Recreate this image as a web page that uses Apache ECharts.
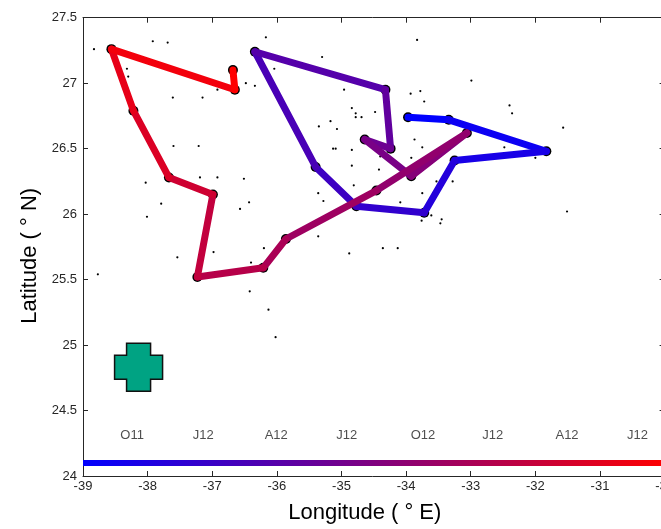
<!DOCTYPE html>
<html>
<head>
<meta charset="utf-8">
<script src="https://cdn.jsdelivr.net/npm/echarts@6/dist/echarts.min.js"></script>
<style>
  html, body { margin: 0; padding: 0; background: #fff; }
  #chart { width: 661px; height: 529px; }
</style>
</head>
<body>
<div id="chart"></div>
<script>
// track vertices, in time order (first = blue, last = red)
const pathLon = [-33.97, -33.34, -31.83, -33.25, -33.72, -34.77, -35.40, -36.34, -34.32, -34.24, -34.64, -33.92,
                 -33.06, -34.46, -35.86, -36.21, -37.23, -36.99, -37.67, -38.22, -38.56, -36.65, -36.68];
const pathLat = [26.74, 26.72, 26.48, 26.41, 26.01, 26.06, 26.36, 27.24, 26.95, 26.50, 26.57, 26.29,
                 26.62, 26.18, 25.81, 25.59, 25.52, 26.15, 26.28, 26.79, 27.26, 26.95, 27.10];

// small background dots
const dotLon = [-38.83, -37.92, -37.69, -36.17, -38.32, -38.30, -36.48, -36.34, -36.92, -37.61, -37.15, -35.30,
                -36.04, -35.35, -37.60, -37.21, -37.19, -36.92, -36.51, -38.03, -37.79, -38.01, -36.43, -36.57,
                -35.36, -35.28, -35.36, -36.20, -36.98, -37.54, -33.83, -32.99, -34.96, -33.93, -33.78, -33.72,
                -32.40, -32.36, -34.84, -34.78, -34.78, -34.69, -34.48, -35.17, -35.07, -31.57, -33.87, -35.13,
                -35.09, -34.84, -33.75, -34.40, -33.92, -32.48, -32.00, -34.84, -34.42, -33.53, -33.28, -34.81,
                -33.75, -34.09, -31.51, -33.61, -33.45, -33.47, -33.76, -34.36, -34.13, -34.88, -38.77, -36.42,
                -36.13, -36.02, -36.40];
const dotLat = [27.26, 27.32, 27.31, 27.35, 27.11, 27.05, 27.00, 26.98, 26.95, 26.89, 26.89, 27.20,
                27.11, 26.67, 26.52, 26.52, 26.28, 26.28, 26.27, 26.24, 26.08, 25.98, 26.09, 26.04,
                26.16, 26.10, 25.83, 25.74, 25.71, 25.67, 27.33, 27.02, 26.95, 26.92, 26.94, 26.86,
                26.83, 26.77, 26.81, 26.77, 26.74, 26.74, 26.78, 26.71, 26.65, 26.66, 26.57, 26.50,
                26.50, 26.49, 26.51, 26.44, 26.43, 26.51, 26.43, 26.37, 26.34, 26.25, 26.25, 26.22,
                26.16, 26.09, 26.02, 25.99, 25.96, 25.93, 25.95, 25.74, 25.74, 25.70, 25.54, 25.41,
                25.27, 25.06, 25.63];

// time labels above the colour bar
const monthLabels = ['O11', 'J12', 'A12', 'J12', 'O12', 'J12', 'A12', 'J12'];
const monthLon = [-38.24, -37.14, -36.01, -34.92, -33.74, -32.66, -31.51, -30.42];
const monthLat = 24.31;
const barLat = 24.1;
const markerLon = -38.14, markerLat = 24.83;

function segColor(t) {
    let r = Math.round(255 * t), b = Math.round(255 * (1 - t));
    return 'rgb(' + r + ',0,' + b + ')';
}

let nSeg = pathLon.length - 1;
let segments = [];
for (let i = 0; i < nSeg; i++) {
    segments.push({
        coords: [[pathLon[i], pathLat[i]], [pathLon[i + 1], pathLat[i + 1]]],
        lineStyle: { color: segColor(i / (nSeg - 1)) }
    });
}

const font = 'Liberation Sans, Arial, sans-serif';
const axisCommon = {
    type: 'value',
    axisLine: { show: true, lineStyle: { color: '#262626', width: 1 } },
    axisTick: { show: true, inside: true, length: 5, lineStyle: { color: '#262626' } },
    splitLine: { show: false }
};
// MATLAB centres the axis names a little left/below of ours
const nameStyle = { fontSize: 22, color: '#000', fontFamily: font, padding: [0, 18, 0, 0] };

let chart = echarts.init(document.getElementById('chart'), null, { renderer: 'canvas' });
chart.setOption({
    backgroundColor: '#fff',
    animation: false,
    grid: { left: 83, top: 17.7, right: -3.6, bottom: 53, outerBoundsMode: 'none' },
    xAxis: [
        Object.assign({}, axisCommon, {
            min: -39, max: -30, interval: 1, position: 'bottom',
            name: 'Longitude ( ° E)', nameLocation: 'middle', nameGap: 26,
            nameTextStyle: nameStyle,
            axisLabel: { fontSize: 13, color: '#262626', fontFamily: font, margin: 4 }
        }),
        Object.assign({}, axisCommon, {
            min: -39, max: -30, interval: 1, position: 'top',
            axisLabel: { show: false }
        })
    ],
    yAxis: [
        Object.assign({}, axisCommon, {
            min: 24, max: 27.5, interval: 0.5, position: 'left',
            name: 'Latitude ( ° N)', nameLocation: 'middle', nameGap: 41,
            nameTextStyle: nameStyle,
            axisLabel: { fontSize: 13, color: '#262626', fontFamily: font, margin: 6 }
        }),
        Object.assign({}, axisCommon, {
            min: 24, max: 27.5, interval: 0.5, position: 'right',
            axisLabel: { show: false }
        })
    ],
    series: [
        {
            type: 'scatter',
            z: 1,
            symbolSize: 2.2,
            itemStyle: { color: '#000', opacity: 1 },
            data: dotLon.map((x, i) => [x, dotLat[i]])
        },
        {
            type: 'scatter',
            z: 1,
            symbolSize: 10,
            itemStyle: { color: '#000', opacity: 1 },
            data: pathLon.map((x, i) => [x, pathLat[i]])
        },
        {
            type: 'lines',
            coordinateSystem: 'cartesian2d',
            z: 3,
            lineStyle: { width: 7, opacity: 1, cap: 'round', join: 'round' },
            data: segments
        },
        {
            type: 'line',
            z: 3,
            symbol: 'none',
            lineStyle: {
                width: 6,
                color: new echarts.graphic.LinearGradient(0, 0, 1, 0, [
                    { offset: 0, color: '#0000ff' },
                    { offset: 1, color: '#ff0000' }
                ])
            },
            data: [[-39, barLat], [-30, barLat]]
        },
        {
            type: 'scatter',
            z: 4,
            symbolSize: 0,
            label: {
                show: true, position: 'inside', formatter: p => p.name,
                fontSize: 13, color: '#222', fontFamily: font
            },
            data: monthLabels.map((m, i) => ({ name: m, value: [monthLon[i], monthLat] }))
        },
        {
            type: 'scatter',
            z: 4,
            symbol: 'path://M25 0H75V25H100V75H75V100H25V75H0V25H25Z',
            symbolSize: 48,
            itemStyle: { color: '#00a383', opacity: 1, borderColor: '#111', borderWidth: 1.5 },
            data: [[markerLon, markerLat]]
        }
    ]
});
</script>
</body>
</html>
